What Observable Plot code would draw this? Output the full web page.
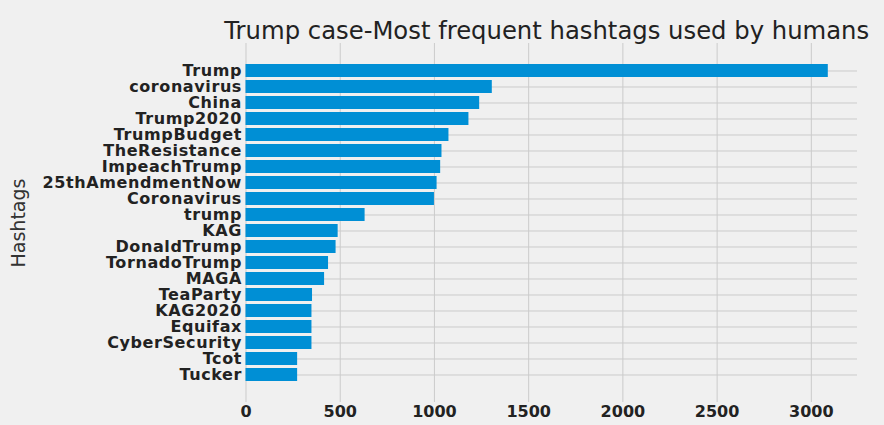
<!DOCTYPE html>
<html>
<head>
<meta charset="utf-8">
<script src="https://cdn.jsdelivr.net/npm/d3@7"></script>
<script src="https://cdn.jsdelivr.net/npm/@observablehq/plot@0.6"></script>
<style>
  html, body { margin: 0; padding: 0; background: #f0f0f0; }
  g[aria-label="y-axis tick label"] text { letter-spacing: 0.6px; }
</style>
</head>
<body>
<div id="chart"></div>
<script>
const tags = ["Trump","coronavirus","China","Trump2020","TrumpBudget","TheResistance","ImpeachTrump","25thAmendmentNow","Coronavirus","trump","KAG","DonaldTrump","TornadoTrump","MAGA","TeaParty","KAG2020","Equifax","CyberSecurity","Tcot","Tucker"];
const counts = [3090,1307,1240,1183,1077,1040,1033,1014,1000,632,489,478,438,417,353,350,350,350,274,274];
const xTicks = [0,500,1000,1500,2000,2500,3000];
const title = "Trump case-Most frequent hashtags used by humans";
const yLabel = "Hashtags";

const data = tags.map((t, i) => ({tag: t, count: counts[i]}));

const chart = Plot.plot({
  width: 884,
  height: 425,
  marginLeft: 245.5,
  marginRight: 27,
  marginTop: 43,
  marginBottom: 23,
  style: {background: "#f0f0f0", fontFamily: "DejaVu Sans, sans-serif", color: "#222"},
  x: {domain: [0, 3245]},
  y: {domain: tags, paddingInner: 0.2, paddingOuter: 1.0},
  marks: [
    Plot.gridX(xTicks, {stroke: "#cbcbcb", strokeOpacity: 1, strokeWidth: 1}),
    Plot.gridY(tags, {stroke: "#cbcbcb", strokeOpacity: 1, strokeWidth: 1}),
    Plot.barX(data, {x: "count", y: "tag", fill: "#008fd5"}),
    Plot.axisY({tickSize: 0, tickPadding: 4, fontWeight: "bold", fontSize: 16, label: null, fill: "#222"}),
    Plot.axisX({ticks: xTicks, tickFormat: d => String(d), tickSize: 0, tickPadding: 3, fontWeight: "bold", fontSize: 16, label: null, fill: "#222"}),
    Plot.text([yLabel], {frameAnchor: "left", textAnchor: "middle", dx: -227, rotate: -90, fontSize: 19, fill: "#333"}),
    Plot.text([title], {frameAnchor: "top", dx: -5, dy: -5, lineAnchor: "bottom", fontSize: 24.3, fill: "#222"})
  ]
});
document.getElementById("chart").appendChild(chart);
</script>
</body>
</html>
